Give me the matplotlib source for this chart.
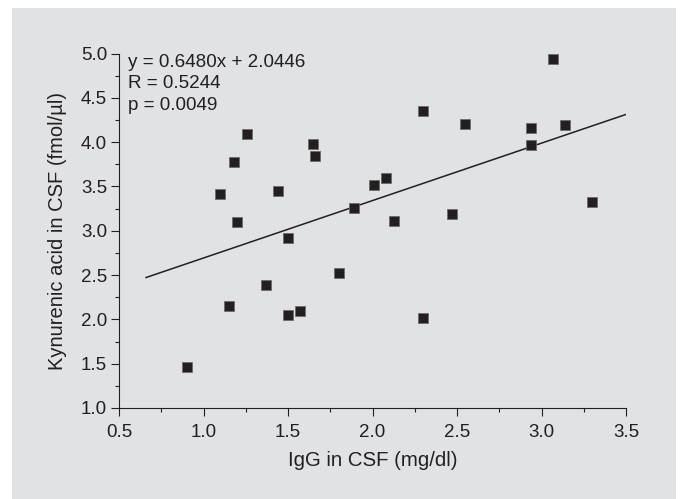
import matplotlib
matplotlib.use("Agg")
import matplotlib.pyplot as plt
from matplotlib.patches import Rectangle
from matplotlib.ticker import MultipleLocator, FormatStrFormatter

plt.rcParams['font.family'] = ['Liberation Sans', 'DejaVu Sans']

igg = [0.90, 1.15, 1.10, 1.18, 1.20, 1.26, 1.37, 1.44, 1.50, 1.50, 1.57, 1.65, 1.66,
       1.80, 1.89, 2.01, 2.08, 2.13, 2.30, 2.30, 2.47, 2.55, 2.94, 2.94, 3.07, 3.14, 3.30]
kyna = [1.46, 2.15, 3.42, 3.78, 3.10, 4.09, 2.39, 3.45, 2.05, 2.92, 2.09, 3.98, 3.84,
        2.52, 3.26, 3.52, 3.60, 3.11, 4.35, 2.01, 3.19, 4.21, 4.16, 3.97, 4.94, 4.19, 3.33]

slope = 0.6480
intercept = 2.0446
fit_x = [0.66, 3.54]
stats_text = ["y = 0.6480x + 2.0446", "R = 0.5244", "p = 0.0049"]

xlabel = "IgG in CSF (mg/dl)"
ylabel = "Kynurenic acid in CSF (fmol/\u00b5l)"

ink = "#231f20"
bg = "#e1e2e4"

fig = plt.figure(figsize=(6.8, 4.99), dpi=100)
fig.patch.set_facecolor("white")
fig.patches.append(Rectangle((12 / 680, 0), (676 - 12) / 680, (499 - 8) / 499,
                             transform=fig.transFigure, facecolor=bg, edgecolor="none", zorder=-10))

ax = fig.add_axes([119 / 680, 1 - 408 / 499, (626 - 119) / 680, (408 - 53.5) / 499])
ax.set_facecolor("none")
ax.set_zorder(5)

ax.scatter(igg, kyna, marker="s", s=52, color=ink, edgecolors="#6d6b6c", linewidths=0.6, zorder=3)
ax.plot(fit_x, [slope * v + intercept for v in fit_x], color=ink, lw=1.1, zorder=2)

ax.set_xlim(0.5, 3.5)
ax.set_ylim(1.0, 5.0)
ax.xaxis.set_major_locator(MultipleLocator(0.5))
ax.xaxis.set_minor_locator(MultipleLocator(0.25))
ax.yaxis.set_major_locator(MultipleLocator(0.5))
ax.yaxis.set_minor_locator(MultipleLocator(0.25))
ax.xaxis.set_major_formatter(FormatStrFormatter("%.1f"))
ax.yaxis.set_major_formatter(FormatStrFormatter("%.1f"))

for s in ["top", "right"]:
    ax.spines[s].set_visible(False)
for s in ["left", "bottom"]:
    ax.spines[s].set_color(ink)
    ax.spines[s].set_linewidth(0.8)

ax.tick_params(which="major", direction="out", length=5.5, width=0.8, color=ink,
               labelsize=13.5, labelcolor=ink, pad=3)
ax.tick_params(axis="x", which="major", pad=6)
ax.tick_params(which="minor", direction="out", length=3, width=0.8, color=ink)

ax.set_xlabel(xlabel, fontsize=14.7, color=ink, labelpad=7)
ax.set_ylabel(ylabel, fontsize=14.5, color=ink, labelpad=10)

ax.text(0.017, 0.998, "\n".join(stats_text), transform=ax.transAxes, ha="left", va="top",
        fontsize=13.6, color=ink, linespacing=1.32)

fig.savefig("out.png", dpi=100)
